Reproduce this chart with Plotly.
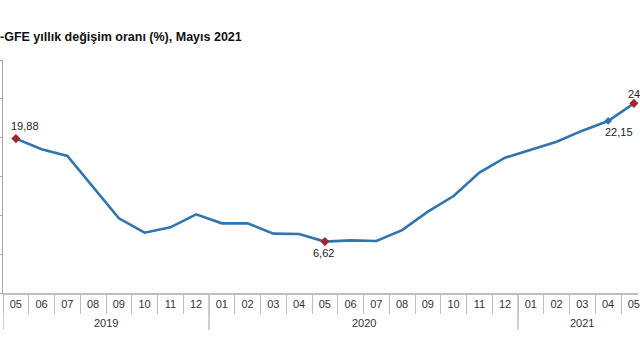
import plotly.graph_objects as go

years = ["2019"] * 8 + ["2020"] * 12 + ["2021"] * 5
months = ["05", "06", "07", "08", "09", "10", "11", "12",
          "01", "02", "03", "04", "05", "06", "07", "08", "09", "10", "11", "12",
          "01", "02", "03", "04", "05"]
values = [19.88, 18.50, 17.64, 13.70, 9.62, 7.77, 8.46, 10.13,
          8.97, 8.97, 7.64, 7.60, 6.62, 6.78, 6.70, 8.10, 10.47, 12.49, 15.50,
          17.42, 18.41, 19.48, 20.90, 22.15, 24.42]
title_text = "-GFE yıllık değişim oranı (%), Mayıs 2021"

LINE = "#2F75B0"
RED = "#A3262A"
GRID = "#BFBFBF"
FONT = "Liberation Sans, Arial, sans-serif"

n = len(values)
cats = [f"{y}-{m}" for y, m in zip(years, months)]
i_min = values.index(min(values))
hi = [0, i_min, n - 1]

fig = go.Figure()
fig.add_trace(go.Scatter(
    x=cats, y=values, mode="lines",
    line=dict(color=LINE, width=2.6), hoverinfo="skip", cliponaxis=False,
))
fig.add_trace(go.Scatter(
    x=[cats[n - 2]], y=[values[n - 2]], mode="markers",
    marker=dict(symbol="diamond", size=6, color=LINE), cliponaxis=False,
))
fig.add_trace(go.Scatter(
    x=[cats[i] for i in hi], y=[values[i] for i in hi],
    mode="markers", marker=dict(symbol="diamond", size=7, color=RED),
    cliponaxis=False,
))

def fmt(v):
    return f"{v:.2f}".replace(".", ",")

label_specs = [(0, 9, 13), (i_min, -1, -11), (n - 2, 11, -11), (n - 1, 8, 9)]
for i, xs, ys in label_specs:
    fig.add_annotation(
        x=i, y=values[i], xref="x", yref="y", text=fmt(values[i]),
        showarrow=False, xshift=xs, yshift=ys,
        font=dict(family=FONT, size=11, color="#222222"),
    )

# year groups: labels centred under their months, dividers at group boundaries
PLOT_H = 233
starts = [i for i in range(n) if i == 0 or years[i] != years[i - 1]]
ends = starts[1:] + [n]
for s, e in zip(starts, ends):
    fig.add_annotation(
        x=(s + e - 1) / 2, y=-30 / PLOT_H, xref="x", yref="paper",
        text=years[s], showarrow=False, yanchor="middle",
        font=dict(family=FONT, size=11, color="#333333"),
    )
    fig.add_shape(type="line", x0=s - 0.5, x1=s - 0.5, xref="x",
                  y0=0, y1=-37 / PLOT_H, yref="paper",
                  line=dict(color=GRID, width=1.5))

fig.update_layout(
    width=640, height=360,
    margin=dict(l=3, r=0, t=60, b=67),
    paper_bgcolor="white", plot_bgcolor="white",
    showlegend=False,
    title=dict(text=title_text, x=0, xref="container", xanchor="left",
               y=1 - 37 / 360, yref="container", yanchor="middle",
               pad=dict(l=0, r=0, t=0, b=0),
               font=dict(family=FONT, size=12.5, color="#111111", weight="bold")),
    font=dict(family=FONT, size=11, color="#333333"),
)
fig.update_xaxes(
    type="category", range=[-0.5, 24.16],
    tickmode="array", tickvals=cats, ticktext=months,
    showline=True, linecolor=GRID, linewidth=2,
    ticks="outside", tickson="boundaries", ticklen=19, tickcolor=GRID,
    ticklabelstandoff=0,
    showgrid=False, zeroline=False,
    tickfont=dict(family=FONT, size=11, color="#333333"),
)
fig.update_yaxes(
    range=[0, 30], dtick=5, showticklabels=False,
    showline=True, linecolor="#A6A6A6", linewidth=1,
    ticks="outside", ticklen=3, tickcolor="#A6A6A6",
    showgrid=False, zeroline=False,
)

fig.write_html("out.html", config={"displayModeBar": False},
               post_script="document.body.style.margin='0';")
